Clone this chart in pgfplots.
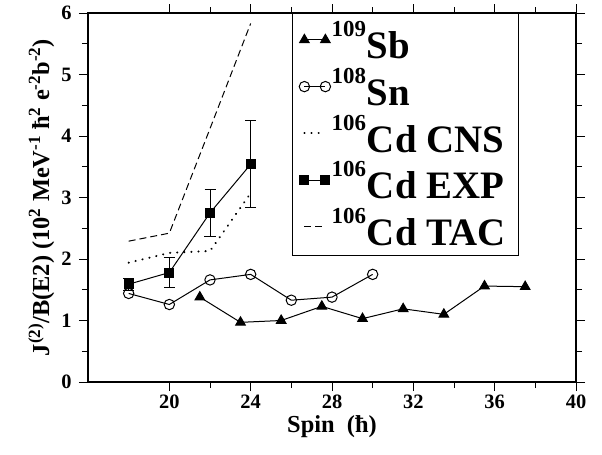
\documentclass[border=0pt]{standalone}
\usepackage{pgfplots}
\pgfplotsset{compat=1.18}
\usepackage{fontspec}
\setmainfont{Liberation Serif}
\newcommand{\nuc}[2]{\raisebox{22bp}{\fontsize{23}{23}\selectfont #1}\kern1bp#2\kern5bp}
\begin{document}
\begin{tikzpicture}
\useasboundingbox (-88bp,-73bp) rectangle (514bp,382bp);
\begin{axis}[
  scale only axis, width=488bp, height=369bp,
  xmin=16, xmax=40, ymin=0, ymax=6,
  xtick={20,24,...,40}, ytick={0,...,6},
  minor x tick num=1, minor y tick num=1,
  tick align=outside,
  major tick length=9bp, minor tick length=6bp,
  axis line style={line width=1.2bp},
  tick style={black, line width=1bp},
  xticklabel={\bfseries\pgfmathprintnumber{\tick}},
  yticklabel={\bfseries\pgfmathprintnumber{\tick}},
  tick label style={font=\fontsize{20.5}{22}\selectfont\bfseries},
  yticklabel style={xshift=-4bp},
  /pgf/number format/assume math mode=true,
  label style={font=\fontsize{24.5}{26}\selectfont\bfseries},
  xlabel={Spin\ \ (ħ)},
  ylabel={J\textsuperscript{(2)}/B(E2) (10\textsuperscript{2} MeV\textsuperscript{-1} ħ\textsuperscript{2} e\textsuperscript{-2}b\textsuperscript{-2})},
  legend cell align=left,
  legend image code/.code={\draw[#1] plot coordinates {(0bp,1bp) (21bp,1bp)};},
  legend style={at={(rel axis cs:0.4174,1)}, anchor=north west,
    draw=black, line width=1bp, inner sep=7bp,
    font=\fontsize{39}{41}\selectfont\bfseries,
    nodes={inner sep=1bp}, row sep=6bp,
    /tikz/every even column/.append style={column sep=7bp}},
]
\addplot[black, line width=1bp, mark=triangle*, mark size=5.5bp, mark options={solid}]
  coordinates {(21.5,1.38) (23.5,0.97) (25.5,1.00) (27.5,1.23) (29.5,1.03)
               (31.5,1.19) (33.5,1.10) (35.5,1.56) (37.5,1.55)};
\addlegendentry{\nuc{109}{Sb}}
\addplot[black, line width=1bp, mark=o, mark size=5.2bp, mark options={fill=white}]
  coordinates {(18,1.44) (20,1.26) (22,1.66) (24,1.75) (26,1.33) (28,1.38) (30,1.75)};
\addlegendentry{\nuc{108}{Sn}}
\addplot[black, line width=2.2bp, line cap=round, dash pattern=on 0.1bp off 7bp]
  coordinates {(18,1.94) (20,2.10) (22,2.13) (24,3.07)};
\addlegendentry{\nuc{106}{Cd CNS}}
\addplot[black, line width=1bp, mark=square*, mark size=4.5bp,
  error bars/.cd, y dir=both, y explicit,
  error bar style={line width=1bp}, error mark options={rotate=90, line width=1bp, mark size=5.5bp}]
  coordinates {(18,1.59) +- (0,0.10) (20,1.78) +- (0,0.25) (22,2.75) +- (0,0.38) (24,3.54) +- (0,0.71)};
\addlegendentry{\nuc{106}{Cd EXP}}
\addplot[black, line width=1bp, dash pattern=on 7bp off 4bp]
  coordinates {(18,2.29) (20,2.42) (22,4.12) (24,5.83)};
\addlegendentry{\nuc{106}{Cd TAC}\rule[-8bp]{0pt}{0pt}}
\end{axis}
\end{tikzpicture}
\end{document}
